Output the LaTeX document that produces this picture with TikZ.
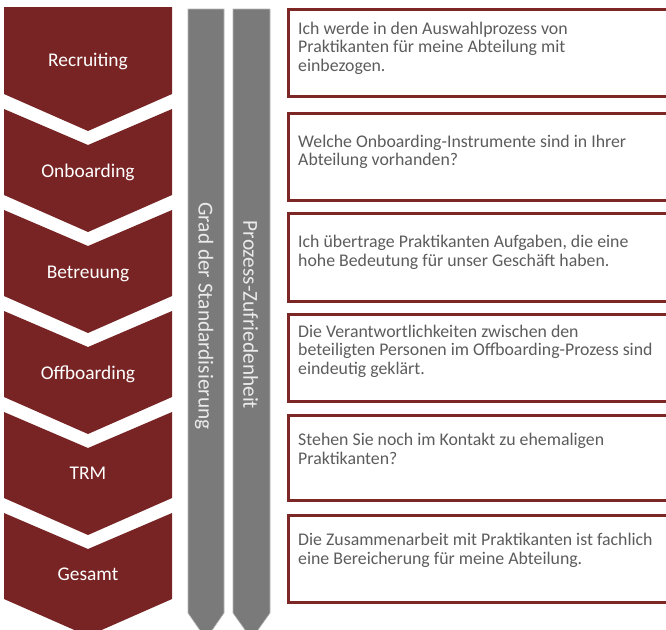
\documentclass[tikz,border=0pt]{standalone}
\usepackage{fontspec}
\setmainfont{Carlito}
\definecolor{chevred}{RGB}{120,36,36}
\definecolor{boxred}{RGB}{124,38,38}
\definecolor{bargray}{RGB}{122,122,122}
\definecolor{qtext}{RGB}{92,92,92}

\begin{document}
\begin{tikzpicture}[x=1pt, y=-1pt,
    phase/.style={text=white, anchor=base, inner sep=0pt, font=\fontsize{19.4}{22}\selectfont},
    axislabel/.style={text=white!92!black, rotate=-90, anchor=base, inner sep=0pt, font=\fontsize{21.3}{24}\selectfont},
    question/.style={text=qtext, anchor=north west, align=left, inner sep=0pt, font=\fontsize{17.8}{18.8}\selectfont},
    qbox/.style={draw=boxred, line width=3pt, fill=white},
    bar/.style={fill=bargray, draw=bargray!55!white, line width=0.6pt}]
    \useasboundingbox (0,0) rectangle (666,629);
    \clip (0,0) rectangle (666,629);

    % Phase chevrons
    \fill[chevred] (4,7) -- (172,7) -- (172,94) -- (88,131) -- (4,94) -- cycle;
    \node[phase] (recruiting) at (88,66) {Recruiting};

    \fill[chevred] (4,109) -- (88,145) -- (172,109) -- (172,195) -- (88,232) -- (4,195) -- cycle;
    \node[phase] (onboarding) at (88,177) {Onboarding};

    \fill[chevred] (4,210) -- (88,246) -- (172,210) -- (172,296) -- (88,333) -- (4,296) -- cycle;
    \node[phase] (betreuung) at (88,278) {Betreuung};

    \fill[chevred] (4,311) -- (88,347) -- (172,311) -- (172,397) -- (88,434) -- (4,397) -- cycle;
    \node[phase] (offboarding) at (88,379) {Offboarding};

    \fill[chevred] (4,412) -- (88,448) -- (172,412) -- (172,498) -- (88,535) -- (4,498) -- cycle;
    \node[phase] (trm) at (88,479) {TRM};

    \fill[chevred] (4,513) -- (88,549) -- (172,513) -- (172,599) -- (88,636) -- (4,599) -- cycle;
    \node[phase] (gesamt) at (88,580) {Gesamt};

    % Gray bars
    \draw[bar] (188,9) -- (224,9) -- (224,613) -- (206,639) -- (188,613) -- cycle;
    \node[axislabel] (grad) at (198.5,316) {Grad der Standardisierung};

    \draw[bar] (233,9) -- (270,9) -- (270,613) -- (251.5,639) -- (233,613) -- cycle;
    \node[axislabel] (zufriedenheit) at (243.3,315) {Prozess-Zufriedenheit};

    % Question boxes
    \draw[qbox] (288,9) rectangle (690,96);
    \node[question] (q1) at (298,21.5) {Ich werde in den Auswahlprozess von\\Praktikanten für meine Abteilung mit\\einbezogen.};

    \draw[qbox] (288,113) rectangle (690,200);
    \node[question] (q2) at (298,134.5) {Welche Onboarding-Instrumente sind in Ihrer\\Abteilung vorhanden?};

    \draw[qbox] (288,213) rectangle (690,301);
    \node[question] (q3) at (298,235) {Ich übertrage Praktikanten Aufgaben, die eine\\hohe Bedeutung für unser Geschäft haben.};

    \draw[qbox] (288,314) rectangle (690,401);
    \node[question] (q4) at (298,324.5) {Die Verantwortlichkeiten zwischen den\\beteiligten Personen im Offboarding-Prozess sind\\eindeutig geklärt.};

    \draw[qbox] (288,415) rectangle (690,500);
    \node[question] (q5) at (298,433) {Stehen Sie noch im Kontakt zu ehemaligen\\Praktikanten?};

    \draw[qbox] (288,515) rectangle (690,602);
    \node[question] (q6) at (298,533) {Die Zusammenarbeit mit Praktikanten ist fachlich\\eine Bereicherung für meine Abteilung.};
\end{tikzpicture}
\end{document}
